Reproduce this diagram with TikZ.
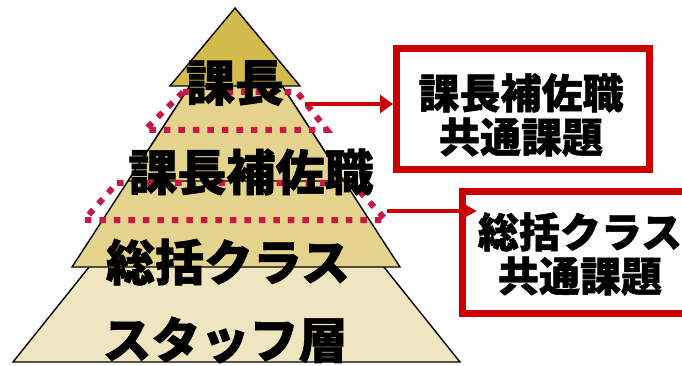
\documentclass[tikz,border=0pt]{standalone}
\usepackage{fontspec}
\setmainfont{Noto Sans CJK JP}[BoldFeatures={FakeBold=1.2}]
\usetikzlibrary{arrows.meta}
\definecolor{goldA}{HTML}{D3BA4D}
\definecolor{goldB}{HTML}{E3D38C}
\definecolor{goldC}{HTML}{EFE5C0}
\definecolor{dotred}{HTML}{C8184A}
\definecolor{boxred}{HTML}{CC0000}
\tikzset{
  layer/.style={draw=black, line width=1.4pt, line join=miter},
  dotline/.style={draw=dotred, line width=6pt, dash pattern=on 6.5pt off 8pt},
  redbox/.style={draw=boxred, line width=7pt, fill=white, inner sep=0pt, outer sep=0pt},
  redarrow/.style={draw=boxred, line width=4.5pt, -{Triangle[length=13pt,width=18pt]}},
  pyrtxt/.style={inner sep=0pt, font=\bfseries\fontsize{49}{49}\selectfont},
  boxtxt/.style={inner sep=0pt, align=center, font=\bfseries\fontsize{41}{44}\selectfont}
}
\begin{document}
\begin{tikzpicture}[x=1pt,y=-1pt]
\useasboundingbox (0,0) rectangle (682,366);
\clip (0,0) rectangle (682,366);
% pyramid layers
\draw[layer, fill=goldC] (236.5,83) -- (460,362) -- (13,362) -- cycle;
\draw[layer, fill=goldB] (236,15) -- (400,267) -- (72,267) -- cycle;
\draw[layer, fill=goldB] (236,15) -- (344,181) -- (128,181) -- cycle;
\draw[layer, fill=goldA] (235,8) -- (300,86) -- (170,86) -- cycle;
% dotted groupings
\draw[dotline] (183,92) -- (297,92) -- (327,130) -- (145,130) -- cycle;
\draw[dotline] (117,183) -- (352,183) -- (386,220) -- (84,220) -- cycle;
% boxes
\node[redbox, minimum width=253pt, minimum height=121pt] (b1) at (523,109) {};
\node[redbox, minimum width=228pt, minimum height=122pt] (b2) at (576,252.5) {};
% connectors
\coordinate (s1) at (305,104);
\coordinate (s2) at (387,211);
\draw[redarrow, shorten >=3.5pt] (s1) -- (b1.west |- s1);
\draw[redarrow, -{Triangle[length=12pt,width=12pt]}, shorten >=-15pt] (s2) -- (b2.west |- s2);
% texts
\node[pyrtxt] (t1) at (235,83) {課長};
\node[pyrtxt] (t2) at (251,172) {課長補佐職};
\node[pyrtxt] (t3) at (228,262) {総括クラス};
\node[pyrtxt] (t4) at (225,340) {スタッフ層};
\node[boxtxt] (bt1) at (521,115) {課長補佐職\\共通課題};
\node[boxtxt] (bt2) at (580,254) {総括クラス\\共通課題};
\end{tikzpicture}
\end{document}
